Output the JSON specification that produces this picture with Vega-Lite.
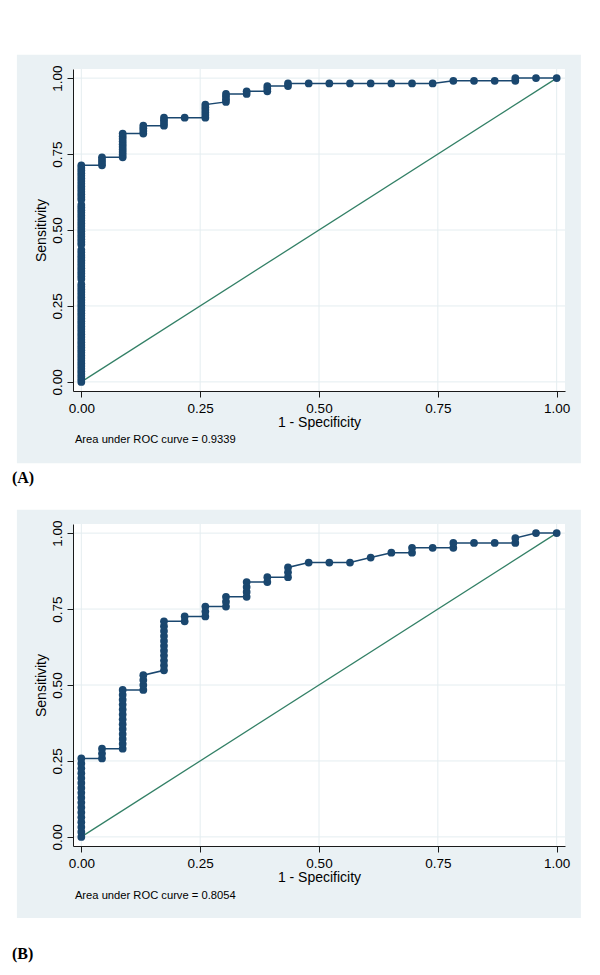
{
  "$schema": "https://vega.github.io/schema/vega-lite/v6.json",
  "padding": {"left": 11, "top": 54, "right": 0, "bottom": 0},
  "background": "white",
  "spacing": 23,
  "config": {
    "view": {"stroke": null},
    "axis": {
      "grid": false, "domainColor": "#1a1a1a", "tickColor": "#1a1a1a", "tickSize": 6, "domainWidth": 1, "tickWidth": 1,
      "labelFont": "Liberation Sans", "titleFont": "Liberation Sans", "labelFontSize": 13.5, "titleFontSize": 14,
      "labelColor": "#000000", "titleColor": "#000000", "titleFontWeight": "normal", "labelFlush": false, "labelOverlap": false
    },
    "axisX": {"labelPadding": 4, "titlePadding": 1},
    "axisY": {"labelAngle": -90, "labelAlign": "center", "labelBaseline": "bottom", "labelPadding": 3, "titlePadding": 2}
  },
  "datasets": {
    "ticks": [{"v": 0}, {"v": 0.25}, {"v": 0.5}, {"v": 0.75}, {"v": 1}],
    "diag": [{"x": 0, "y": 0}, {"x": 1, "y": 1}],
    "rocA": [
      {"x":0,"y":0},{"x":0,"y":0.0087},{"x":0,"y":0.0174},{"x":0,"y":0.0261},{"x":0,"y":0.0348},{"x":0,"y":0.0435},{"x":0,"y":0.0522},{"x":0,"y":0.0609},{"x":0,"y":0.0696},{"x":0,"y":0.0783},
      {"x":0,"y":0.0870},{"x":0,"y":0.0957},{"x":0,"y":0.1043},{"x":0,"y":0.1130},{"x":0,"y":0.1217},{"x":0,"y":0.1304},{"x":0,"y":0.1391},{"x":0,"y":0.1478},{"x":0,"y":0.1565},{"x":0,"y":0.1652},
      {"x":0,"y":0.1739},{"x":0,"y":0.1826},{"x":0,"y":0.1913},{"x":0,"y":0.2000},{"x":0,"y":0.2087},{"x":0,"y":0.2174},{"x":0,"y":0.2261},{"x":0,"y":0.2348},{"x":0,"y":0.2435},{"x":0,"y":0.2522},
      {"x":0,"y":0.2609},{"x":0,"y":0.2696},{"x":0,"y":0.2783},{"x":0,"y":0.2870},{"x":0,"y":0.2957},{"x":0,"y":0.3043},{"x":0,"y":0.3130},{"x":0,"y":0.3217},{"x":0,"y":0.3391},
      {"x":0,"y":0.3478},{"x":0,"y":0.3565},{"x":0,"y":0.3652},{"x":0,"y":0.3739},{"x":0,"y":0.3826},{"x":0,"y":0.3913},{"x":0,"y":0.4000},{"x":0,"y":0.4087},{"x":0,"y":0.4174},{"x":0,"y":0.4261},
      {"x":0,"y":0.4348},{"x":0,"y":0.4522},{"x":0,"y":0.4609},{"x":0,"y":0.4696},{"x":0,"y":0.4783},{"x":0,"y":0.4870},{"x":0,"y":0.4957},{"x":0,"y":0.5043},{"x":0,"y":0.5130},
      {"x":0,"y":0.5217},{"x":0,"y":0.5304},{"x":0,"y":0.5391},{"x":0,"y":0.5478},{"x":0,"y":0.5565},{"x":0,"y":0.5652},{"x":0,"y":0.5739},{"x":0,"y":0.5826},{"x":0,"y":0.6000},
      {"x":0,"y":0.6087},{"x":0,"y":0.6174},{"x":0,"y":0.6261},{"x":0,"y":0.6348},{"x":0,"y":0.6435},{"x":0,"y":0.6522},{"x":0,"y":0.6609},{"x":0,"y":0.6696},{"x":0,"y":0.6783},{"x":0,"y":0.6870},
      {"x":0,"y":0.6957},{"x":0,"y":0.7043},{"x":0,"y":0.7130},
      {"x":0.0435,"y":0.7130},{"x":0.0435,"y":0.7217},{"x":0.0435,"y":0.7304},{"x":0.0435,"y":0.7391},
      {"x":0.0870,"y":0.7391},{"x":0.0870,"y":0.7478},{"x":0.0870,"y":0.7565},{"x":0.0870,"y":0.7652},{"x":0.0870,"y":0.7739},{"x":0.0870,"y":0.7826},{"x":0.0870,"y":0.7913},{"x":0.0870,"y":0.8000},{"x":0.0870,"y":0.8087},{"x":0.0870,"y":0.8174},
      {"x":0.1304,"y":0.8174},{"x":0.1304,"y":0.8261},{"x":0.1304,"y":0.8348},{"x":0.1304,"y":0.8435},
      {"x":0.1739,"y":0.8435},{"x":0.1739,"y":0.8522},{"x":0.1739,"y":0.8609},{"x":0.1739,"y":0.8696},
      {"x":0.2174,"y":0.8696},
      {"x":0.2609,"y":0.8696},{"x":0.2609,"y":0.8783},{"x":0.2609,"y":0.8870},{"x":0.2609,"y":0.8957},{"x":0.2609,"y":0.9043},{"x":0.2609,"y":0.9130},
      {"x":0.3043,"y":0.9217},{"x":0.3043,"y":0.9304},{"x":0.3043,"y":0.9391},{"x":0.3043,"y":0.9478},
      {"x":0.3478,"y":0.9478},{"x":0.3478,"y":0.9565},
      {"x":0.3913,"y":0.9565},{"x":0.3913,"y":0.9652},{"x":0.3913,"y":0.9739},
      {"x":0.4348,"y":0.9739},{"x":0.4348,"y":0.9826},
      {"x":0.4783,"y":0.9826},{"x":0.5217,"y":0.9826},{"x":0.5652,"y":0.9826},{"x":0.6087,"y":0.9826},{"x":0.6522,"y":0.9826},{"x":0.6957,"y":0.9826},{"x":0.7391,"y":0.9826},
      {"x":0.7826,"y":0.9913},{"x":0.8261,"y":0.9913},{"x":0.8696,"y":0.9913},
      {"x":0.9130,"y":0.9913},{"x":0.9130,"y":1},
      {"x":0.9565,"y":1},{"x":1,"y":1}
    ],
    "rocB": [
      {"x":0,"y":0},{"x":0,"y":0.0161},{"x":0,"y":0.0323},{"x":0,"y":0.0484},{"x":0,"y":0.0645},{"x":0,"y":0.0806},{"x":0,"y":0.0968},{"x":0,"y":0.1129},{"x":0,"y":0.1290},
      {"x":0,"y":0.1452},{"x":0,"y":0.1613},{"x":0,"y":0.1774},{"x":0,"y":0.1935},{"x":0,"y":0.2097},{"x":0,"y":0.2258},{"x":0,"y":0.2419},{"x":0,"y":0.2581},
      {"x":0.0435,"y":0.2581},{"x":0.0435,"y":0.2742},{"x":0.0435,"y":0.2903},
      {"x":0.0870,"y":0.2903},{"x":0.0870,"y":0.3065},{"x":0.0870,"y":0.3226},{"x":0.0870,"y":0.3387},{"x":0.0870,"y":0.3548},{"x":0.0870,"y":0.3710},{"x":0.0870,"y":0.3871},
      {"x":0.0870,"y":0.4032},{"x":0.0870,"y":0.4194},{"x":0.0870,"y":0.4355},{"x":0.0870,"y":0.4516},{"x":0.0870,"y":0.4677},{"x":0.0870,"y":0.4839},
      {"x":0.1304,"y":0.4839},{"x":0.1304,"y":0.5000},{"x":0.1304,"y":0.5161},{"x":0.1304,"y":0.5323},
      {"x":0.1739,"y":0.5484},{"x":0.1739,"y":0.5645},{"x":0.1739,"y":0.5806},{"x":0.1739,"y":0.5968},{"x":0.1739,"y":0.6129},{"x":0.1739,"y":0.6290},
      {"x":0.1739,"y":0.6452},{"x":0.1739,"y":0.6613},{"x":0.1739,"y":0.6774},{"x":0.1739,"y":0.6935},{"x":0.1739,"y":0.7097},
      {"x":0.2174,"y":0.7097},{"x":0.2174,"y":0.7258},
      {"x":0.2609,"y":0.7258},{"x":0.2609,"y":0.7419},{"x":0.2609,"y":0.7581},
      {"x":0.3043,"y":0.7581},{"x":0.3043,"y":0.7742},{"x":0.3043,"y":0.7903},
      {"x":0.3478,"y":0.7903},{"x":0.3478,"y":0.8065},{"x":0.3478,"y":0.8226},{"x":0.3478,"y":0.8387},
      {"x":0.3913,"y":0.8387},{"x":0.3913,"y":0.8548},
      {"x":0.4348,"y":0.8548},{"x":0.4348,"y":0.8710},{"x":0.4348,"y":0.8871},
      {"x":0.4783,"y":0.9032},{"x":0.5217,"y":0.9032},{"x":0.5652,"y":0.9032},
      {"x":0.6087,"y":0.9194},
      {"x":0.6522,"y":0.9355},
      {"x":0.6957,"y":0.9355},{"x":0.6957,"y":0.9516},
      {"x":0.7391,"y":0.9516},
      {"x":0.7826,"y":0.9516},{"x":0.7826,"y":0.9677},
      {"x":0.8261,"y":0.9677},{"x":0.8696,"y":0.9677},
      {"x":0.9130,"y":0.9677},{"x":0.9130,"y":0.9839},
      {"x":0.9565,"y":1},{"x":1,"y":1}
    ]
  },
  "vconcat": [
    {
      "width": 492, "height": 322,
      "layer": [
        {"data": {"values": [{}]}, "mark": {"type": "rect", "color": "#eaf1f4"},
         "encoding": {"x": {"datum": -0.1355, "type": "quantitative"}, "x2": {"datum": 1.0509}, "y": {"datum": -0.268, "type": "quantitative"}, "y2": {"datum": 1.0768}}},
        {"data": {"values": [{}]}, "mark": {"type": "rect", "color": "#ffffff"},
         "encoding": {"x": {"datum": -0.0175, "type": "quantitative"}, "x2": {"datum": 1.0175}, "y": {"datum": -0.03, "type": "quantitative"}, "y2": {"datum": 1.03}}},
        {"data": {"name": "ticks"}, "mark": {"type": "rule", "color": "#e4edf0", "strokeWidth": 1},
         "encoding": {"x": {"field": "v", "type": "quantitative"}}},
        {"data": {"name": "ticks"}, "mark": {"type": "rule", "color": "#e4edf0", "strokeWidth": 1},
         "encoding": {"y": {"field": "v", "type": "quantitative"}}},
        {"data": {"name": "diag"}, "mark": {"type": "line", "color": "#338066", "strokeWidth": 1.3},
         "encoding": {"x": {"field": "x", "type": "quantitative"}, "y": {"field": "y", "type": "quantitative"}}},
        {"data": {"name": "rocA"}, "mark": {"type": "line", "color": "#1a476f", "strokeWidth": 1.5, "point": {"filled": true, "size": 60, "opacity": 1, "color": "#1a476f"}},
         "encoding": {
           "x": {"field": "x", "type": "quantitative", "scale": {"domain": [-0.0175, 1.0175], "nice": false, "zero": false},
                 "axis": {"zindex": 1, "values": [0, 0.25, 0.5, 0.75, 1], "format": ".2f", "title": "1 - Specificity"}},
           "y": {"field": "y", "type": "quantitative", "scale": {"domain": [-0.03, 1.03], "nice": false, "zero": false},
                 "axis": {"zindex": 1, "values": [0, 0.25, 0.5, 0.75, 1], "format": ".2f", "title": "Sensitivity"}},
           "order": {"value": null}
         }},
        {"data": {"values": [{}]}, "mark": {"type": "text", "text": "Area under ROC curve = 0.9339", "align": "left", "baseline": "middle", "fontSize": 11.2, "font": "Liberation Sans", "color": "#000000"},
         "encoding": {"x": {"datum": -0.0135, "type": "quantitative"}, "y": {"datum": -0.19, "type": "quantitative"}}},
        {"data": {"values": [{}]}, "mark": {"type": "text", "text": "(A)", "align": "left", "baseline": "middle", "fontSize": 16, "font": "Liberation Serif", "fontWeight": "bold", "color": "#000000"},
         "encoding": {"x": {"datum": -0.146, "type": "quantitative"}, "y": {"datum": -0.316, "type": "quantitative"}}}
      ]
    },
    {
      "width": 492, "height": 322,
      "layer": [
        {"data": {"values": [{}]}, "mark": {"type": "rect", "color": "#eaf1f4"},
         "encoding": {"x": {"datum": -0.1355, "type": "quantitative"}, "x2": {"datum": 1.0509}, "y": {"datum": -0.267, "type": "quantitative"}, "y2": {"datum": 1.0768}}},
        {"data": {"values": [{}]}, "mark": {"type": "rect", "color": "#ffffff"},
         "encoding": {"x": {"datum": -0.0175, "type": "quantitative"}, "x2": {"datum": 1.0175}, "y": {"datum": -0.03, "type": "quantitative"}, "y2": {"datum": 1.03}}},
        {"data": {"name": "ticks"}, "mark": {"type": "rule", "color": "#e4edf0", "strokeWidth": 1},
         "encoding": {"x": {"field": "v", "type": "quantitative"}}},
        {"data": {"name": "ticks"}, "mark": {"type": "rule", "color": "#e4edf0", "strokeWidth": 1},
         "encoding": {"y": {"field": "v", "type": "quantitative"}}},
        {"data": {"name": "diag"}, "mark": {"type": "line", "color": "#338066", "strokeWidth": 1.3},
         "encoding": {"x": {"field": "x", "type": "quantitative"}, "y": {"field": "y", "type": "quantitative"}}},
        {"data": {"name": "rocB"}, "mark": {"type": "line", "color": "#1a476f", "strokeWidth": 1.5, "point": {"filled": true, "size": 60, "opacity": 1, "color": "#1a476f"}},
         "encoding": {
           "x": {"field": "x", "type": "quantitative", "scale": {"domain": [-0.0175, 1.0175], "nice": false, "zero": false},
                 "axis": {"zindex": 1, "values": [0, 0.25, 0.5, 0.75, 1], "format": ".2f", "title": "1 - Specificity"}},
           "y": {"field": "y", "type": "quantitative", "scale": {"domain": [-0.03, 1.03], "nice": false, "zero": false},
                 "axis": {"zindex": 1, "values": [0, 0.25, 0.5, 0.75, 1], "format": ".2f", "title": "Sensitivity"}},
           "order": {"value": null}
         }},
        {"data": {"values": [{}]}, "mark": {"type": "text", "text": "Area under ROC curve = 0.8054", "align": "left", "baseline": "middle", "fontSize": 11.2, "font": "Liberation Sans", "color": "#000000"},
         "encoding": {"x": {"datum": -0.0135, "type": "quantitative"}, "y": {"datum": -0.193, "type": "quantitative"}}},
        {"data": {"values": [{}]}, "mark": {"type": "text", "text": "(B)", "align": "left", "baseline": "middle", "fontSize": 16, "font": "Liberation Serif", "fontWeight": "bold", "color": "#000000"},
         "encoding": {"x": {"datum": -0.146, "type": "quantitative"}, "y": {"datum": -0.387, "type": "quantitative"}}}
      ]
    }
  ]
}
